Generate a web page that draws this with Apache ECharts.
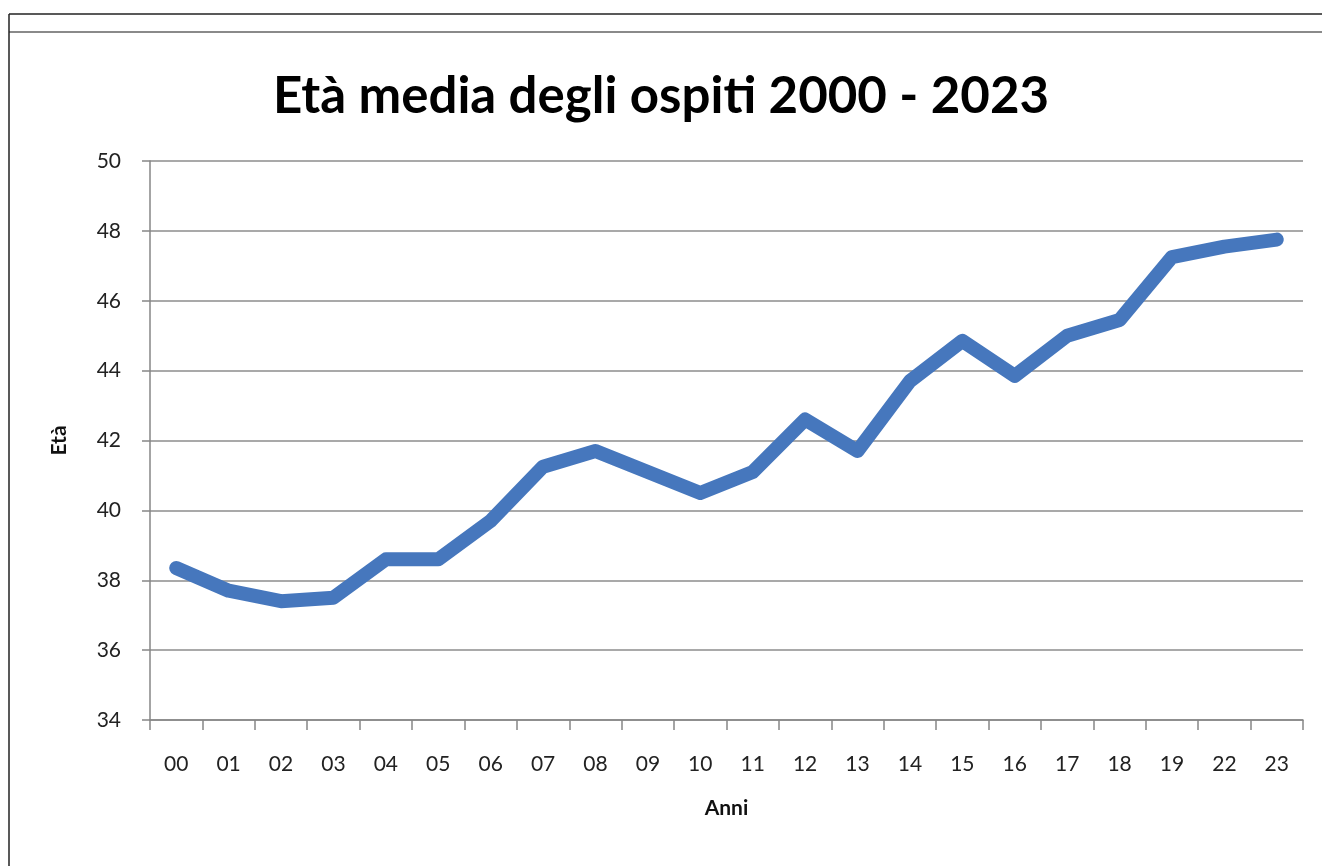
<!DOCTYPE html>
<html>
<head>
<meta charset="utf-8">
<script src="https://cdn.jsdelivr.net/npm/echarts@6/dist/echarts.min.js"></script>
<style>
html,body{margin:0;padding:0;background:#fff;}
#chart{width:1322px;height:866px;}
</style>
</head>
<body>
<div id="chart"></div>
<script>
const titleText = 'Età media degli ospiti 2000 - 2023';
const xAxisName = 'Anni';
const yAxisName = 'Età';
const categories = ['00','01','02','03','04','05','06','07','08','09','10','11','12','13','14','15','16','17','18','19','22','23'];
const etaMedia = [38.35,37.7,37.4,37.5,38.6,38.6,39.7,41.25,41.7,41.1,40.5,41.1,42.6,41.7,43.7,44.85,43.85,45.0,45.45,47.25,47.55,47.75];

const chart = echarts.init(document.getElementById('chart'));
const fontFam = 'Lato, "Open Sans", sans-serif';
chart.setOption({
  backgroundColor: '#ffffff',
  animation: false,
  title: {
    text: titleText,
    left: 'center',
    top: 66,
    textStyle: {fontFamily: fontFam, fontSize: 51, fontWeight: 'bold', color: '#000'}
  },
  graphic: [
    {type: 'line', shape: {x1: 9, y1: 14, x2: 1322, y2: 14}, style: {stroke: '#222', lineWidth: 1.5}},
    {type: 'line', shape: {x1: 9, y1: 32, x2: 1322, y2: 32}, style: {stroke: '#8a8a8a', lineWidth: 2}},
    {type: 'line', shape: {x1: 9, y1: 14, x2: 9, y2: 866}, style: {stroke: '#222', lineWidth: 1.5}}
  ],
  grid: {left: 150, right: 19, top: 161, bottom: 146, containLabel: false},
  xAxis: {
    type: 'category',
    data: categories,
    boundaryGap: true,
    name: xAxisName,
    nameLocation: 'middle',
    nameGap: 78,
    nameTextStyle: {fontFamily: fontFam, fontSize: 21, fontWeight: 'bold', color: '#111'},
    axisLine: {lineStyle: {color: '#868686', width: 1.5}},
    axisTick: {show: true, interval: 0, length: 10, lineStyle: {color: '#868686', width: 1.5}},
    axisLabel: {interval: 0, margin: 34, fontFamily: fontFam, fontSize: 21, color: '#222'},
    splitLine: {show: false}
  },
  yAxis: {
    type: 'value',
    min: 34, max: 50, interval: 2,
    name: yAxisName,
    nameLocation: 'middle',
    nameGap: 80,
    nameRotate: 90,
    nameTextStyle: {fontFamily: fontFam, fontSize: 21, fontWeight: 'bold', color: '#111'},
    axisLine: {show: true, lineStyle: {color: '#868686', width: 1.5}},
    axisTick: {show: true, length: 8, lineStyle: {color: '#868686', width: 1.5}},
    axisLabel: {margin: 29, fontFamily: fontFam, fontSize: 21, color: '#222'},
    splitLine: {show: true, lineStyle: {color: '#8c8c8c', width: 1.5}}
  },
  series: [{
    type: 'line',
    data: etaMedia,
    symbol: 'none',
    lineStyle: {color: '#4677bd', width: 14, cap: 'round', join: 'round'},
    itemStyle: {color: '#4677bd'}
  }]
});
</script>
</body>
</html>
